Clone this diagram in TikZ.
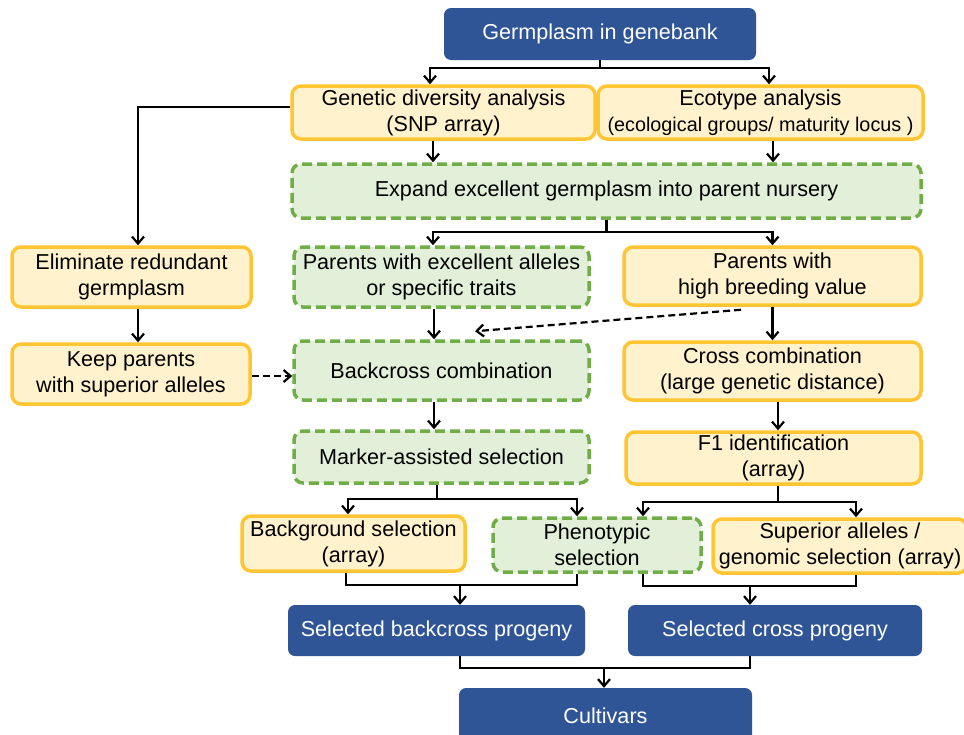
\documentclass[tikz,border=0pt]{standalone}
\usepackage{fontspec}
\setmainfont{Liberation Sans}
\usetikzlibrary{arrows.meta,calc}
\definecolor{bluebox}{HTML}{2F5597}
\definecolor{yelfill}{HTML}{FFF2CC}
\definecolor{yeldraw}{HTML}{FFC532}
\definecolor{grnfill}{HTML}{E2F0D9}
\definecolor{grndraw}{HTML}{70AD47}
\begin{document}
\begin{tikzpicture}[x=1pt,y=-1pt,
  every node/.style={font=\fontsize{21.6}{26}\selectfont, align=center, inner sep=0pt},
  bluebox/.style={fill=bluebox, draw=none, rounded corners=7pt, text=white},
  yelbox/.style={fill=yelfill, draw=yeldraw, line width=3.5pt, rounded corners=9pt},
  grnbox/.style={fill=grnfill, draw=grndraw, line width=3.5pt, rounded corners=9pt, dash pattern=on 10pt off 5pt},
  arr/.style={line width=2.2pt, -{Straight Barb[length=7pt,width=12pt,line width=2.2pt]}},
  con/.style={line width=2.2pt},
  darr/.style={line width=2.2pt, dash pattern=on 7pt off 4pt, -{Straight Barb[length=7pt,width=12pt,line width=2.2pt]}}
]
\useasboundingbox[fill=white] (0,0) rectangle (964,734);

\node[bluebox, minimum width=312pt, minimum height=52pt] (top) at (600,34) {Germplasm in genebank};
\node[yelbox, minimum width=303pt, minimum height=53pt] (gda) at (443.5,112.5) {Genetic diversity analysis\\(SNP array)};
\node[yelbox, minimum width=325pt, minimum height=53pt] (eco) at (760.5,112.5) {Ecotype analysis\\{\fontsize{19.8}{24}\selectfont(ecological groups/ maturity locus )}};
\node[grnbox, minimum width=629pt, minimum height=54pt] (exp) at (606.5,191) {Expand excellent germplasm into parent nursery};
\node[yelbox, minimum width=239pt, minimum height=60pt] (elim) at (131.5,277) {Eliminate redundant\\germplasm};
\node[grnbox, minimum width=295pt, minimum height=60pt] (pex) at (441.5,277) {Parents with excellent alleles\\or specific traits};
\node[yelbox, minimum width=297pt, minimum height=58pt] (phb) at (772.5,276) {Parents with\\high breeding value};
\node[yelbox, minimum width=238pt, minimum height=60pt] (keep) at (131,374) {Keep parents\\with superior alleles};
\node[grnbox, minimum width=295pt, minimum height=59pt] (back) at (441.5,370.5) {Backcross combination};
\node[yelbox, minimum width=297pt, minimum height=58pt] (cross) at (772.5,371) {Cross combination\\(large genetic distance)};
\node[grnbox, minimum width=295pt, minimum height=52pt] (mas) at (441.5,457) {Marker-assisted selection};
\node[yelbox, minimum width=295pt, minimum height=52pt] (f1) at (773.5,458) {F1 identification\\(array)};
\node[yelbox, minimum width=223pt, minimum height=55pt] (bg) at (353.5,543.5) {Background selection\\(array)};
\node[grnbox, minimum width=208pt, minimum height=54pt] (phen) at (597,545) {Phenotypic\\selection};
\node[yelbox, minimum width=254pt, minimum height=54pt] (sup) at (840,546) {Superior alleles /\\genomic selection (array)};
\node[bluebox, minimum width=297pt, minimum height=51pt] (sbp) at (436.5,630.5) {Selected backcross progeny};
\node[bluebox, minimum width=294pt, minimum height=51pt] (scp) at (775,630.5) {Selected cross progeny};
\node[bluebox, minimum width=293pt, minimum height=56pt] (cult) at (605.5,716) {Cultivars};

% top split
\draw[con] (top.south) -- ++(0,8) coordinate (t1);
\draw[arr] (t1) -| ([xshift=-13.5pt]gda.north);
\draw[arr] (t1) -| ([xshift=8.5pt]eco.north);
% gda to eliminate
\draw[arr] ([yshift=5.5pt]gda.west) -| ([xshift=6.5pt]elim.north);
% into expand
\coordinate (g1) at ([xshift=-10.5pt]gda.south);
\draw[arr] (g1) -- (g1 |- exp.north);
\coordinate (e1) at ([xshift=12.5pt]eco.south);
\draw[arr] (e1) -- (e1 |- exp.north);
% expand split
\draw[con] (exp.south) -- ++(0,12) coordinate (x1);
\draw[arr] (x1) -| ([xshift=-8.5pt]pex.north);
\draw[arr] (x1) -| (phb.north);
% eliminate to keep
\coordinate (l1) at ([xshift=6.5pt]elim.south);
\draw[arr] (l1) -- (l1 |- keep.north);
% keep to backcross
\draw[darr] ([yshift=-2pt]keep.east) -- ([yshift=-2pt]keep.east -| back.west);
% pex to back
\coordinate (p1) at ([xshift=-7.5pt]pex.south);
\draw[arr] (p1) -- (p1 |- back.north);
% phb to back dashed
\draw[darr] ([xshift=-31.5pt,yshift=-3pt]phb.south) -- ([xshift=33.5pt,yshift=8pt]back.north);
% phb to cross
\draw[arr] (phb.south) -- (cross.north);
% back to mas
\coordinate (b1) at ([xshift=-7.5pt]back.south);
\draw[arr] (b1) -- (b1 |- mas.north);
% cross to f1
\coordinate (c1) at ([xshift=5.5pt]cross.south);
\draw[arr] (c1) -- (c1 |- f1.north);
% mas split
\draw[con] ([xshift=-4.5pt]mas.south) -- ++(0,14) coordinate (m1);
\draw[arr] (m1) -| ([xshift=-5.5pt]bg.north);
\draw[arr] (m1) -| ([xshift=-20pt]phen.north);
% f1 split
\draw[con] ([xshift=4.5pt]f1.south) -- ++(0,16) coordinate (f2);
\draw[arr] (f2) -| ([xshift=46pt]phen.north);
\draw[arr] (f2) -| ([xshift=16pt]sup.north);
% merge to sbp
\draw[con] ([xshift=-7.5pt]bg.south) -- ++(0,12.5) coordinate (j1) -| ([xshift=-20pt]phen.south);
\coordinate (s1) at ([xshift=23.5pt]sbp.north);
\draw[arr] (j1 -| s1) -- (s1);
% merge to scp
\draw[con] ([xshift=46pt]phen.south) -- ++(0,12) coordinate (j2) -| ([xshift=16pt]sup.south);
\coordinate (s2) at ([xshift=-25pt]scp.north);
\draw[arr] (j2 -| s2) -- (s2);
% merge to cultivars
\draw[con] ([xshift=23.5pt]sbp.south) -- ++(0,12) coordinate (j3) -| ([xshift=-25pt]scp.south);
\coordinate (s3) at ([xshift=-1.5pt]cult.north);
\draw[arr] (j3 -| s3) -- (s3);
\end{tikzpicture}
\end{document}
